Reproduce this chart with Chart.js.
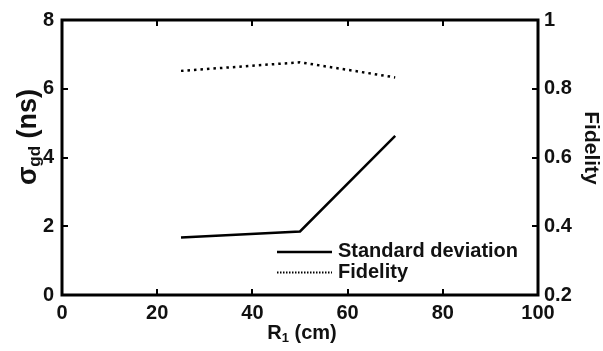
<!DOCTYPE html>
<html>
<head>
<meta charset="utf-8">
<script src="https://cdn.jsdelivr.net/npm/chart.js@4.4.1/dist/chart.umd.min.js"></script>
<style>
  html, body { margin: 0; padding: 0; background: #fff; }
  canvas { display: block; }
</style>
</head>
<body>
<canvas id="sigmaFidelity" width="603" height="351"></canvas>
<script>
// R1 positions (cm) and the two measured series
var radiusCm = [25, 50, 70];
var sigmaGd = [1.67, 1.85, 4.63];
var fidelity = [0.852, 0.877, 0.833];

var radiusTicks = [0, 20, 40, 60, 80, 100];
var sigmaTicks = [0, 2, 4, 6, 8];
var fidelityTicks = [0.2, 0.4, 0.6, 0.8, 1];

var seriesNames = ["Standard deviation", "Fidelity"];

const FONT = "'Liberation Sans', Arial, sans-serif";
const INK = '#111';
const fidelityDash = [2.5, 4];

function toPoints(xs, ys) {
    return xs.map(function (x, i) { return { x: x, y: ys[i] }; });
}

function tickFont() {
    return { family: FONT, size: 20, weight: 'bold' };
}

// box around the plot, inward tick marks, axis titles and the small legend
const framePlugin = {
    id: 'framePlugin',
    afterDraw: function (chart) {
        const ctx = chart.ctx;
        const a = chart.chartArea;
        const sx = chart.scales.x, sy = chart.scales.y, sf = chart.scales.y1;
        ctx.save();
        ctx.strokeStyle = '#000';
        ctx.lineWidth = 2;
        ctx.beginPath();
        radiusTicks.forEach(function (v) {
            const px = Math.round(sx.getPixelForValue(v));
            ctx.moveTo(px, a.bottom); ctx.lineTo(px, a.bottom - 6);
            ctx.moveTo(px, a.top); ctx.lineTo(px, a.top + 6);
        });
        sigmaTicks.forEach(function (v) {
            const py = Math.round(sy.getPixelForValue(v));
            ctx.moveTo(a.left, py); ctx.lineTo(a.left + 6, py);
        });
        fidelityTicks.forEach(function (v) {
            const py = Math.round(sf.getPixelForValue(v));
            ctx.moveTo(a.right, py); ctx.lineTo(a.right - 6, py);
        });
        ctx.stroke();

        ctx.lineWidth = 3;
        ctx.strokeRect(a.left, a.top, a.right - a.left, a.bottom - a.top);

        ctx.fillStyle = INK;
        ctx.textBaseline = 'alphabetic';
        ctx.textAlign = 'left';

        // x title: R1 (cm)
        const big = 'bold 20px ' + FONT, sub = 'bold 13px ' + FONT;
        ctx.font = big; const wR = ctx.measureText('R').width;
        ctx.font = sub; const w1 = ctx.measureText('1').width;
        ctx.font = big; const wRest = ctx.measureText(' (cm)').width;
        let x0 = 302 - (wR + w1 + wRest) / 2;
        const base = 339;
        ctx.font = big; ctx.fillText('R', x0, base); x0 += wR;
        ctx.font = sub; ctx.fillText('1', x0, base + 3); x0 += w1;
        ctx.font = big; ctx.fillText(' (cm)', x0, base);

        // left title: sigma_gd (ns)
        ctx.save();
        ctx.translate(36, 137);
        ctx.rotate(-Math.PI / 2);
        const tBig = 'bold 27px ' + FONT, tSub = 'bold 17px ' + FONT;
        ctx.font = tBig; const ws = ctx.measureText('σ').width;
        ctx.font = tSub; const wgd = ctx.measureText('gd').width;
        ctx.font = tBig; const wns = ctx.measureText(' (ns)').width;
        let t0 = -(ws + wgd + wns) / 2;
        ctx.font = tBig; ctx.fillText('σ', t0, 0); t0 += ws;
        ctx.font = tSub; ctx.fillText('gd', t0, 4); t0 += wgd;
        ctx.font = tBig; ctx.fillText(' (ns)', t0, 0);
        ctx.restore();

        // right title: Fidelity
        ctx.save();
        ctx.translate(585, 148);
        ctx.rotate(Math.PI / 2);
        ctx.font = 'bold 21px ' + FONT;
        ctx.textAlign = 'center';
        ctx.fillText('Fidelity', 0, 0);
        ctx.restore();

        // legend
        ctx.font = 'bold 20px ' + FONT;
        ctx.textBaseline = 'middle';
        ctx.fillText(seriesNames[0], 338, 251);
        ctx.fillText(seriesNames[1], 338, 272);
        ctx.lineWidth = 2.5;
        ctx.beginPath(); ctx.moveTo(277, 252); ctx.lineTo(332, 252); ctx.stroke();
        ctx.lineWidth = 2;
        ctx.setLineDash([1.5, 1.5]);
        ctx.beginPath(); ctx.moveTo(277, 272.5); ctx.lineTo(332, 272.5); ctx.stroke();
        ctx.restore();
    }
};

function plainAxis(extra) {
    return Object.assign({
        grid: { display: false, drawTicks: false },
        border: { display: false }
    }, extra);
}

new Chart(document.getElementById('sigmaFidelity').getContext('2d'), {
    type: 'line',
    data: {
        datasets: [{
            label: seriesNames[0],
            data: toPoints(radiusCm, sigmaGd),
            yAxisID: 'y',
            borderColor: '#000',
            borderWidth: 2.5,
            pointRadius: 0,
            tension: 0
        }, {
            label: seriesNames[1],
            data: toPoints(radiusCm, fidelity),
            yAxisID: 'y1',
            borderColor: '#000',
            borderWidth: 2.5,
            borderDash: fidelityDash,
            pointRadius: 0,
            tension: 0
        }]
    },
    options: {
        responsive: false,
        animation: false,
        devicePixelRatio: 1,
        layout: { padding: { top: 11, left: 0, right: 0, bottom: 0 } },
        plugins: { legend: { display: false }, tooltip: { enabled: false } },
        scales: {
            x: plainAxis({
                type: 'linear', min: 0, max: 100,
                afterBuildTicks: function (s) { s.ticks = radiusTicks.map(function (v) { return { value: v }; }); },
                afterFit: function (s) { s.height = 56; },
                ticks: { font: tickFont(), color: INK, padding: 6, maxRotation: 0, autoSkip: false }
            }),
            y: plainAxis({
                type: 'linear', position: 'left', min: 0, max: 8,
                afterBuildTicks: function (s) { s.ticks = sigmaTicks.map(function (v) { return { value: v }; }); },
                afterFit: function (s) { s.width = 62; },
                ticks: { font: tickFont(), color: INK, padding: 8 }
            }),
            y1: plainAxis({
                type: 'linear', position: 'right', min: 0.2, max: 1,
                afterBuildTicks: function (s) { s.ticks = fidelityTicks.map(function (v) { return { value: v }; }); },
                afterFit: function (s) { s.width = 65; },
                ticks: {
                    font: tickFont(), color: INK, padding: 6,
                    callback: function (v) { return String(Math.round(v * 10) / 10); }
                }
            })
        }
    },
    plugins: [framePlugin]
});
</script>
</body>
</html>
